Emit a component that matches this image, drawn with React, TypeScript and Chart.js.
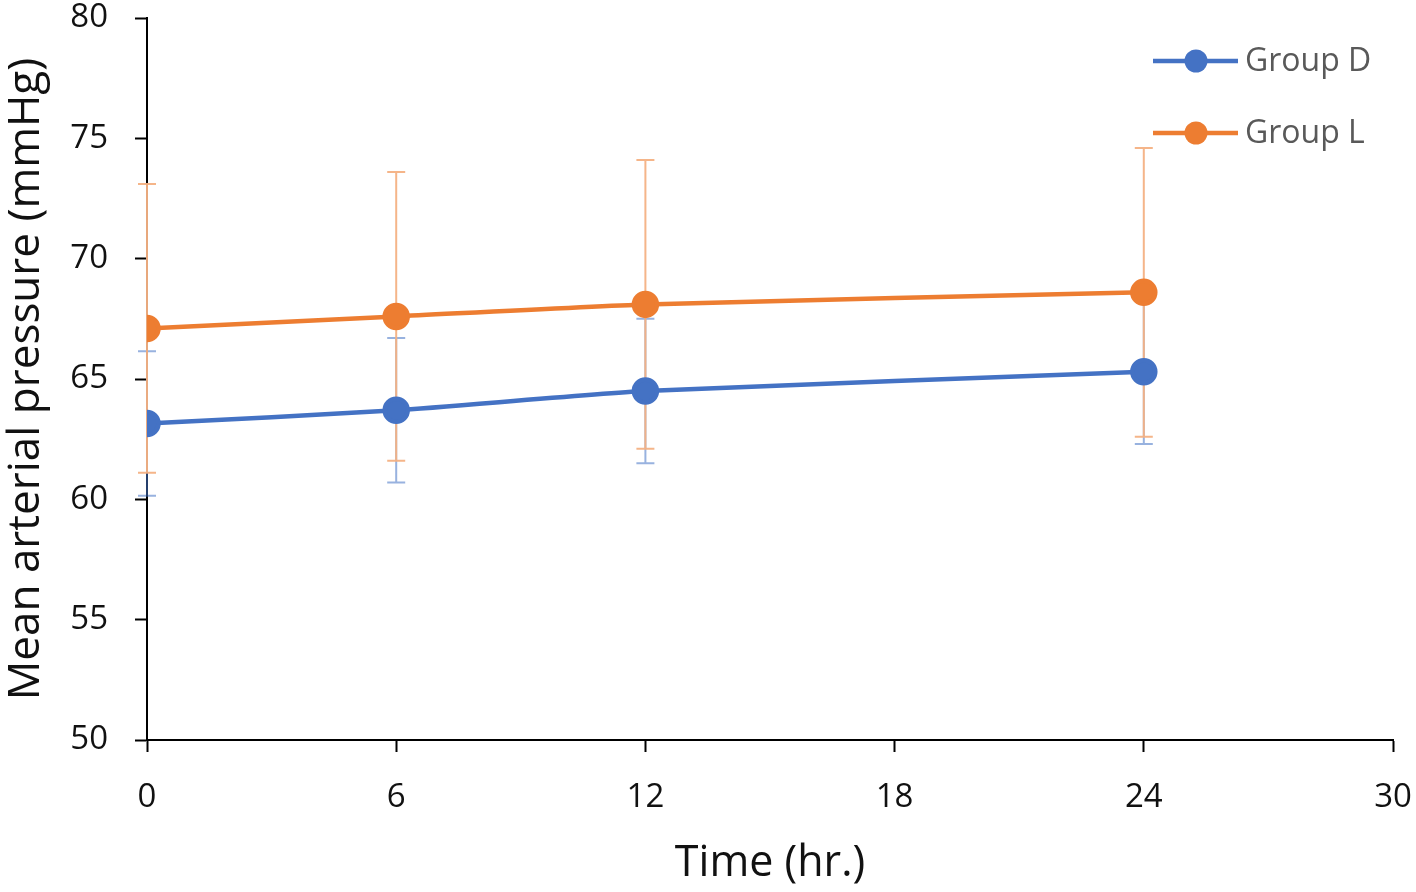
import React, { useEffect, useRef } from "react";
import { Chart, registerables } from "chart.js";

Chart.register(...registerables);

const timePoints = [0, 6, 12, 24];
const groupD = [63.15, 63.7, 64.5, 65.3];
const groupDErr = [3.0, 3.0, 3.0, 3.0];
const groupL = [67.1, 67.6, 68.1, 68.6];
const groupLErr = [6.0, 6.0, 6.0, 6.0];
const xTicks = [0, 6, 12, 18, 24, 30];
const yTicks = [50, 55, 60, 65, 70, 75, 80];
const seriesNames = ["Group D", "Group L"];

const BLUE = "#4472C4";
const ORANGE = "#ED7D31";
const BLUE_ERR = "rgba(68,114,196,0.55)";
const ORANGE_ERR = "rgba(244,177,131,0.95)";
const FONT = "'Open Sans', 'Noto Sans', sans-serif";

const errorBarPlugin = {
  id: "errorBars",
  beforeDatasetsDraw(chart: any) {
    const { ctx, scales } = chart;
    const xs = scales.x;
    const ys = scales.y;
    const sets = [
      { vals: groupD, errs: groupDErr, color: BLUE_ERR },
      { vals: groupL, errs: groupLErr, color: ORANGE_ERR },
    ];
    ctx.save();
    ctx.lineWidth = 2;
    for (const s of sets) {
      ctx.strokeStyle = s.color;
      timePoints.forEach((t, i) => {
        const px = xs.getPixelForValue(t);
        const top = ys.getPixelForValue(s.vals[i] + s.errs[i]);
        const bot = ys.getPixelForValue(s.vals[i] - s.errs[i]);
        ctx.beginPath();
        ctx.moveTo(px, top);
        ctx.lineTo(px, bot);
        ctx.moveTo(px - 9, top);
        ctx.lineTo(px + 9, top);
        ctx.moveTo(px - 9, bot);
        ctx.lineTo(px + 9, bot);
        ctx.stroke();
      });
    }
    ctx.restore();
  },
};

const legendPlugin = {
  id: "customLegend",
  afterDraw(chart: any) {
    const { ctx } = chart;
    const items = [
      { label: seriesNames[0], color: BLUE, y: 61 },
      { label: seriesNames[1], color: ORANGE, y: 133 },
    ];
    ctx.save();
    for (const it of items) {
      ctx.strokeStyle = it.color;
      ctx.lineWidth = 4.5;
      ctx.beginPath();
      ctx.moveTo(1153, it.y);
      ctx.lineTo(1238, it.y);
      ctx.stroke();
      ctx.fillStyle = it.color;
      ctx.beginPath();
      ctx.arc(1196, it.y, 11.5, 0, Math.PI * 2);
      ctx.fill();
      ctx.fillStyle = "#595959";
      ctx.font = `32px ${FONT}`;
      ctx.textAlign = "left";
      ctx.textBaseline = "middle";
      ctx.fillText(it.label, 1245, it.y + 1);
    }
    ctx.restore();
  },
};

export default function App() {
  const ref = useRef<HTMLCanvasElement>(null);
  useEffect(() => {
    document.body.style.margin = "0";
    const c = new Chart(ref.current!, {
      type: "scatter",
      data: {
        datasets: [
          {
            label: seriesNames[0],
            data: timePoints.map((t, i) => ({ x: t, y: groupD[i] })),
            borderColor: BLUE,
            backgroundColor: BLUE,
            borderWidth: 4.5,
            pointRadius: 11.5,
            pointHoverRadius: 11.5,
            showLine: true,
            tension: 0.2,
          },
          {
            label: seriesNames[1],
            data: timePoints.map((t, i) => ({ x: t, y: groupL[i] })),
            borderColor: ORANGE,
            backgroundColor: ORANGE,
            borderWidth: 4.5,
            pointRadius: 11.5,
            pointHoverRadius: 11.5,
            showLine: true,
            tension: 0.2,
          },
        ],
      },
      options: {
        animation: false,
        responsive: false,
        layout: { padding: { top: 18, right: 23, left: 0, bottom: 0 } },
        plugins: { legend: { display: false }, tooltip: { enabled: false } },
        scales: {
          x: {
            type: "linear",
            min: 0,
            max: 30,
            afterFit: (s: any) => {
              s.height = 152;
              s.paddingLeft = 0;
              s.paddingRight = 0;
            },
            afterBuildTicks: (s: any) => {
              s.ticks = xTicks.map((v) => ({ value: v }));
            },
            grid: {
              drawOnChartArea: false,
              drawTicks: true,
              tickLength: 12,
              tickColor: "#000",
              tickWidth: 2,
              color: "#000",
            },
            border: { color: "#000", width: 2 },
            ticks: {
              color: "#111",
              font: { family: FONT, size: 33 },
              padding: 26,
              maxRotation: 0,
            },
            title: {
              display: true,
              text: "Time (hr.)",
              color: "#111",
              font: { family: FONT, size: 43 },
              padding: { top: 0, bottom: 2 },
            },
          },
          y: {
            type: "linear",
            min: 50,
            max: 80,
            afterFit: (s: any) => {
              s.width = 147;
              s.paddingTop = 0;
              s.paddingBottom = 0;
            },
            afterBuildTicks: (s: any) => {
              s.ticks = yTicks.map((v) => ({ value: v }));
            },
            grid: {
              drawOnChartArea: false,
              drawTicks: true,
              tickLength: 12,
              tickColor: "#000",
              tickWidth: 2,
              color: "#000",
            },
            border: { color: "#000", width: 2 },
            ticks: {
              color: "#111",
              font: { family: FONT, size: 33 },
              padding: 27,
            },
            title: {
              display: true,
              text: "Mean arterial pressure (mmHg)",
              color: "#111",
              font: { family: FONT, size: 44 },
              padding: { top: 0, bottom: 0 },
            },
          },
        },
      },
      plugins: [errorBarPlugin, legendPlugin],
    } as any);
    return () => c.destroy();
  }, []);
  return <canvas ref={ref} width={1416} height={892} style={{ display: "block" }} />;
}
